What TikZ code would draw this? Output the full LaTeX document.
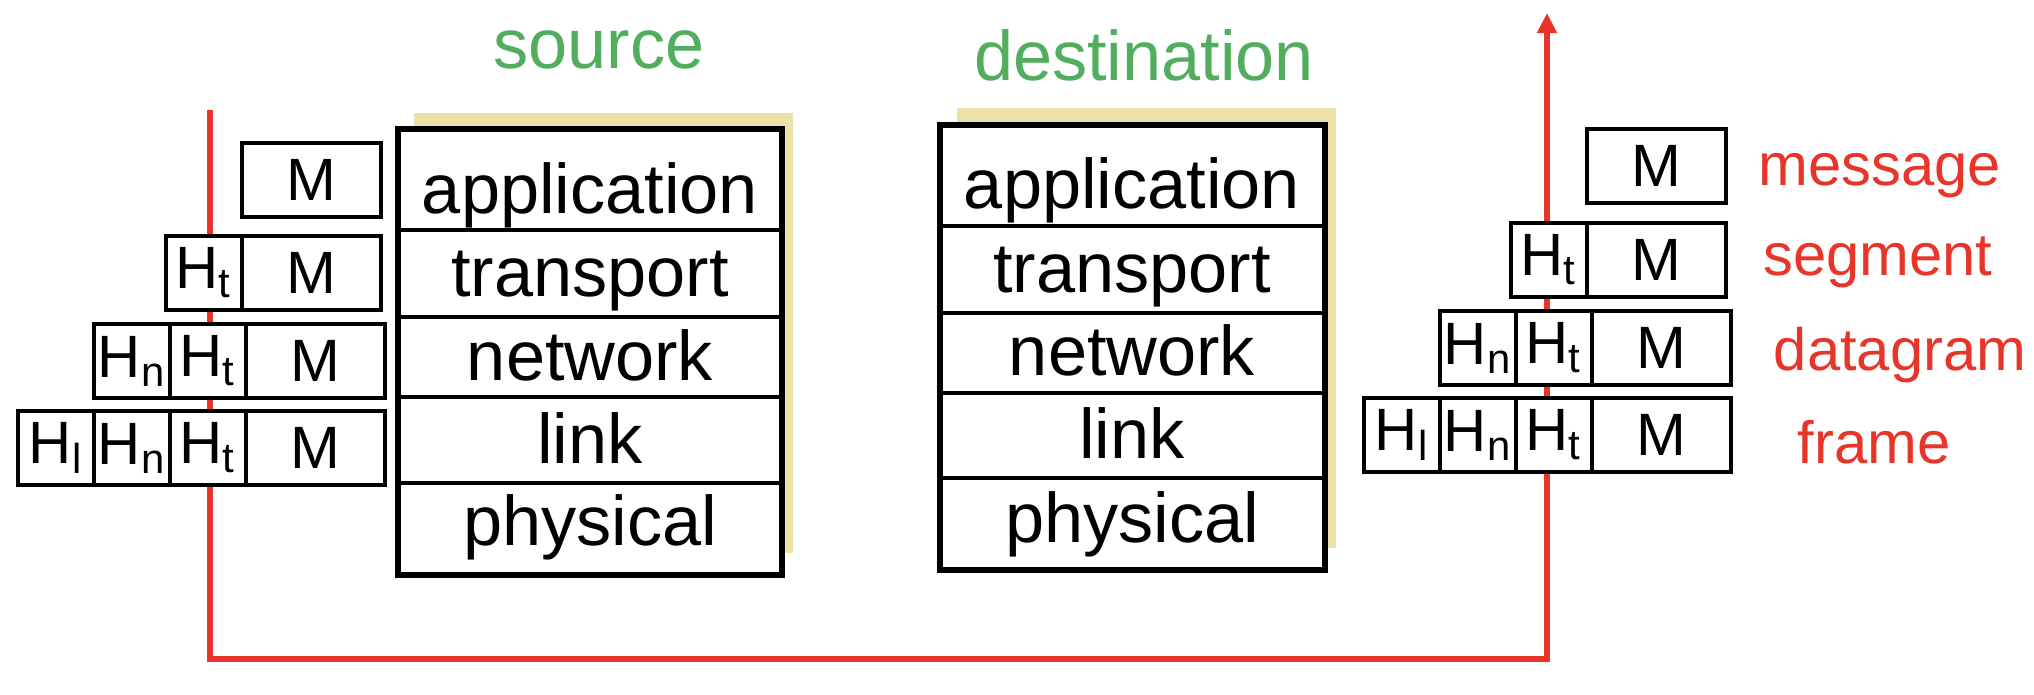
\documentclass[tikz,border=0pt]{standalone}
\usepackage{fontspec}
\setmainfont{Liberation Sans}
\usetikzlibrary{arrows.meta, positioning}
\definecolor{wirered}{HTML}{E8352A}
\definecolor{titlegreen}{HTML}{52AE5E}
\definecolor{shadowtan}{HTML}{ECE1A9}

\begin{document}
\begin{tikzpicture}[x=0.1mm, y=-0.1mm,
  hdr/.style={draw, line width=1.1pt, fill=white, inner sep=0pt, outer sep=0pt,
    minimum width=7.6mm, minimum height=7.4mm, font=\fontsize{17}{20}\selectfont},
  msg/.style={hdr, minimum width=13.9mm, anchor=north west},
  layer/.style={anchor=base, inner sep=0pt, font=\fontsize{20}{24}\selectfont},
  title/.style={anchor=base, text=titlegreen, font=\fontsize{20}{24}\selectfont},
  tag/.style={anchor=base, text=wirered, font=\fontsize{17}{20}\selectfont},
  frame/.style={line width=1.8pt},
  rule/.style={line width=1.4pt},
  wire/.style={wirered, line width=1.7pt}]
\useasboundingbox (0,0) rectangle (2034,694);

% Titles
\node[title] (srcTitle) at (599,68) {source};
\node[title] (dstTitle) at (1144,80) {destination};

% Red path (drawn first, boxes go on top)
\coordinate (srcTop) at (210,110);
\coordinate (srcBot) at (210,659);
\coordinate (dstTop) at (1547,13);
\draw[wire, -{Triangle[length=2mm, width=1.9mm]}] (srcTop) -- (srcBot) -| (dstTop);

% Source stack
\fill[shadowtan] (414,113) rectangle (793,553);
\draw[frame, fill=white] (398,129) rectangle (782,575);
\foreach \y in {230,317,397,483} {
  \draw[rule] (398,\y) -- (782,\y);
}
\node[layer] (sApp) at (590,213) {application};
\node[layer] (sTrans) at (590,296) {transport};
\node[layer] (sNet) at (590,380) {network};
\node[layer] (sLink) at (590,463) {link};
\node[layer] (sPhy) at (590,545) {physical};

% Destination stack
\fill[shadowtan] (957,108) rectangle (1336,548);
\draw[frame, fill=white] (940,125) rectangle (1325,570);
\foreach \y in {226,313,393,478} {
  \draw[rule] (940,\y) -- (1325,\y);
}
\node[layer] (dApp) at (1132,208) {application};
\node[layer] (dTrans) at (1132,292) {transport};
\node[layer] (dNet) at (1132,375) {network};
\node[layer] (dLink) at (1132,458) {link};
\node[layer] (dPhy) at (1132,542) {physical};

% Encapsulation at the source
\node[msg] (sM1) at (242,143) {M};
\node[msg] (sM2) at (242,236) {M};
\node[hdr, left=0pt of sM2] (sT2) {H\textsubscript{t}};
\node[msg] (sM3) at (246,324) {M};
\node[hdr, left=0pt of sM3] (sT3) {H\textsubscript{t}};
\node[hdr, left=0pt of sT3] (sN3) {H\textsubscript{n}};
\node[msg] (sM4) at (246,411) {M};
\node[hdr, left=0pt of sM4] (sT4) {H\textsubscript{t}};
\node[hdr, left=0pt of sT4] (sN4) {H\textsubscript{n}};
\node[hdr, left=0pt of sN4] (sL4) {H\textsubscript{l}};

% Decapsulation at the destination
\node[msg] (dM1) at (1587,129) {M};
\node[msg] (dM2) at (1587,223) {M};
\node[hdr, left=0pt of dM2] (dT2) {H\textsubscript{t}};
\node[msg] (dM3) at (1592,311) {M};
\node[hdr, left=0pt of dM3] (dT3) {H\textsubscript{t}};
\node[hdr, left=0pt of dT3] (dN3) {H\textsubscript{n}};
\node[msg] (dM4) at (1592,398) {M};
\node[hdr, left=0pt of dM4] (dT4) {H\textsubscript{t}};
\node[hdr, left=0pt of dT4] (dN4) {H\textsubscript{n}};
\node[hdr, left=0pt of dN4] (dL4) {H\textsubscript{l}};

% Unit names
\node[tag] (tMsg) at (1880,185) {message};
\node[tag] (tSeg) at (1878,275) {segment};
\node[tag] (tDgm) at (1900,370) {datagram};
\node[tag] (tFrm) at (1874,463) {frame};

\end{tikzpicture}
\end{document}
